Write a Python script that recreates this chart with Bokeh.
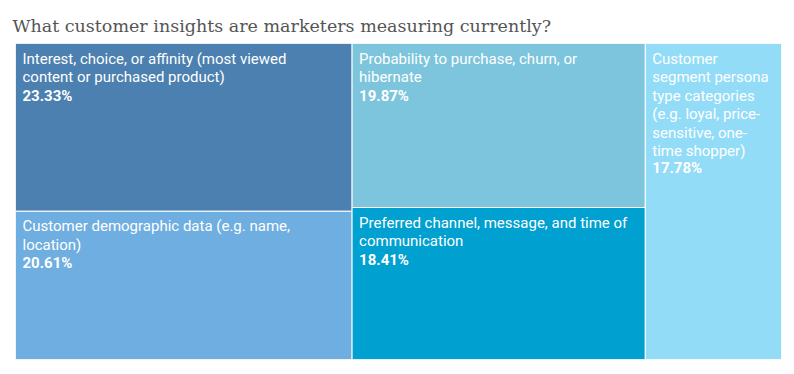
from bokeh.plotting import figure
from bokeh.models import Range1d, ColumnDataSource
from bokeh.core.properties import value
from bokeh.embed import file_html
from bokeh.resources import INLINE

# ---- data ----
labels = [
    "Interest, choice, or affinity (most viewed\ncontent or purchased product)",
    "Customer demographic data (e.g. name,\nlocation)",
    "Probability to purchase, churn, or\nhibernate",
    "Preferred channel, message, and time of\ncommunication",
    "Customer\nsegment persona\ntype categories\n(e.g. loyal, price-\nsensitive, one-\ntime shopper)",
]
values = [23.33, 20.61, 19.87, 18.41, 17.78]
colors = ["#4b80b0", "#6faee0", "#7dc5dc", "#00a0d0", "#93dcf8"]
columns = [[0, 1], [2, 3], [4]]  # treemap column grouping

# ---- layout (slice and dice from values) ----
total = sum(values)
left, right, top, bottom = [0.0] * 5, [0.0] * 5, [0.0] * 5, [0.0] * 5
x0 = 0.0
for col in columns:
    csum = sum(values[i] for i in col)
    x1 = x0 + csum
    y0 = 1.0
    for i in col:
        h = values[i] / csum
        left[i], right[i], top[i], bottom[i] = x0, x1, y0, y0 - h
        y0 -= h
    x0 = x1

LINE_H = 18.1
PAD_X, PAD_Y = 7, 6
nlines = [len(s.split("\n")) for s in labels]
src = ColumnDataSource(dict(
    left=left, right=right, top=top, bottom=bottom, color=colors,
    label=labels, pct=[f"{v:.2f}%" for v in values],
    pct_off=[PAD_Y + 1 + n * LINE_H for n in nlines],
))

p = figure(width=786, height=366, output_backend="svg", toolbar_location=None,
           x_range=Range1d(0, total), y_range=Range1d(0, 1),
           min_border_left=15, min_border_right=5, min_border_top=43, min_border_bottom=7,
           title="What customer insights are marketers measuring currently?")
p.title.text_font = "DejaVu Serif"
p.title.text_font_size = "17.5px"
p.title.text_font_style = "normal"
p.title.text_color = "#555555"
p.title.offset = -3
p.title.standoff = 15
p.axis.visible = False
p.grid.visible = False
p.outline_line_color = None
p.background_fill_color = "white"

p.quad(left="left", right="right", top="top", bottom="bottom", fill_color="color",
       line_color="white", line_width=1, source=src)
p.text(x="left", y="top", text="label", source=src, x_offset=PAD_X, y_offset=PAD_Y,
       text_align="left", text_baseline="top", text_color="white",
       text_font=value("Roboto"), text_font_size="15px", text_line_height=1.03)
p.text(x="left", y="top", text="pct", source=src, x_offset=PAD_X, y_offset="pct_off",
       text_align="left", text_baseline="top", text_color="white",
       text_font=value("Roboto"), text_font_size="15px", text_font_style="bold")

open("out.html", "w").write(file_html(p, INLINE))
